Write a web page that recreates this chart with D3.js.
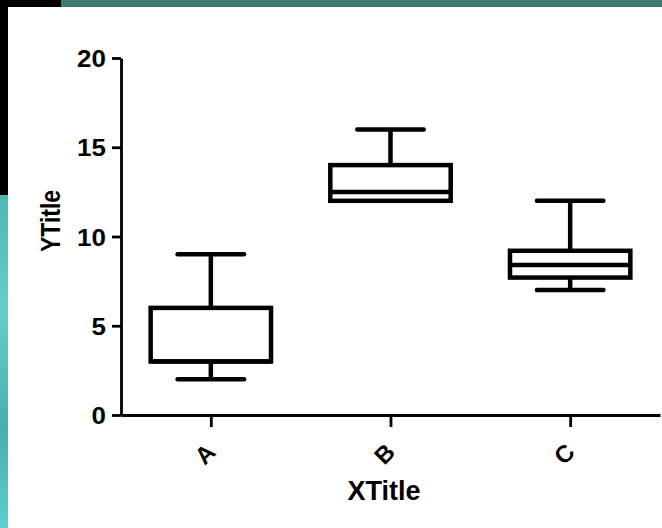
<!DOCTYPE html>
<html>
<head>
    <title>boxplot</title>
    <script src="https://d3js.org/d3.v7.min.js"></script>
    <style>
        body { margin:0; background:#fff; }
        text { font-family:"Liberation Sans", Arial, sans-serif; font-weight:bold; fill:#000; }
    </style>
</head>
<body>
    <script>
var w=662;
var h=528;

// data
var categories=["A","B","C"];
var mins=[2,12,7];
var q1s=[3,12,7.7];
var medians=[3,12.5,8.4];
var q3s=[6,14,9.2];
var maxs=[9,16,12];
var yTicks=[0,5,10,15,20];

var svg=d3.select("body")
    .append("svg")
    .attr("width",w)
    .attr("height",h);

// slide decoration: top strip and left strip
var defs=svg.append("defs");
var grad=defs.append("linearGradient")
    .attr("id","swirl")
    .attr("x1",0).attr("y1",0).attr("x2",0).attr("y2",1);
grad.append("stop").attr("offset","0%").attr("stop-color","#4fb7b4");
grad.append("stop").attr("offset","35%").attr("stop-color","#63cfcc");
grad.append("stop").attr("offset","70%").attr("stop-color","#47aeb0");
grad.append("stop").attr("offset","100%").attr("stop-color","#5ccfd0");

svg.append("rect").attr("x",0).attr("y",0).attr("width",61).attr("height",7).attr("fill","#000");
svg.append("rect").attr("x",61).attr("y",0).attr("width",w-61).attr("height",7).attr("fill","#3d7a6f");
svg.append("rect").attr("x",0).attr("y",0).attr("width",8).attr("height",195).attr("fill","#000");
svg.append("rect").attr("x",0).attr("y",195).attr("width",8).attr("height",h-195).attr("fill","url(#swirl)");

// scales
var x=d3.scalePoint()
    .domain(categories)
    .range([121,660])
    .padding(0.5);
var y=d3.scaleLinear()
    .domain([0,20])
    .range([415,58]);

var step=x.step();
var boxW=step*0.67;
var capW=step*0.37;

// axes
var yAxis=svg.append("g")
    .attr("transform","translate(121,0)")
    .call(d3.axisLeft(y).tickValues(yTicks).tickSize(9).tickSizeOuter(0).tickPadding(5));
yAxis.selectAll("text")
    .style("font-size","24px")
    .attr("dy","0.36em")
    .attr("transform","scale(1.08,1)");

var xAxis=svg.append("g")
    .attr("transform","translate(0,415)")
    .call(d3.axisBottom(x).tickSize(12).tickSizeOuter(0));
xAxis.selectAll("text").remove();

svg.selectAll(".domain, .tick line")
    .attr("stroke","#000")
    .attr("stroke-width",2.8);

// rotated category labels
svg.selectAll(".catlab")
    .data(categories)
    .enter()
    .append("text")
    .attr("class","catlab")
    .attr("text-anchor","middle")
    .attr("dy","0.35em")
    .style("font-size","24px")
    .attr("transform",function(d){ return "translate("+(x(d)-6)+",454) rotate(-45)"; })
    .text(function(d){ return d; });

// titles
svg.append("text")
    .attr("x",384)
    .attr("y",500)
    .attr("text-anchor","middle")
    .style("font-size","27px")
    .text("XTitle");
svg.append("text")
    .attr("transform","translate(60,221) rotate(-90) scale(1,1.2)")
    .attr("text-anchor","middle")
    .style("font-size","23px")
    .text("YTitle");

// boxes
var g=svg.append("g")
    .attr("fill","none")
    .attr("stroke","#000")
    .attr("stroke-width",4.5);

categories.forEach(function(c,i){
    var cx=x(c);
    // whiskers
    g.append("line").attr("x1",cx).attr("x2",cx).attr("y1",y(maxs[i])).attr("y2",y(q3s[i]));
    g.append("line").attr("x1",cx).attr("x2",cx).attr("y1",y(q1s[i])).attr("y2",y(mins[i]));
    g.append("line").attr("x1",cx-capW/2).attr("x2",cx+capW/2).attr("y1",y(maxs[i])).attr("y2",y(maxs[i])).attr("stroke-linecap","round");
    g.append("line").attr("x1",cx-capW/2).attr("x2",cx+capW/2).attr("y1",y(mins[i])).attr("y2",y(mins[i])).attr("stroke-linecap","round");
    // box
    g.append("rect")
        .attr("x",cx-boxW/2)
        .attr("y",y(q3s[i]))
        .attr("width",boxW)
        .attr("height",y(q1s[i])-y(q3s[i]))
        .attr("fill","#fff");
    // median
    g.append("line").attr("x1",cx-boxW/2).attr("x2",cx+boxW/2).attr("y1",y(medians[i])).attr("y2",y(medians[i]));
});
    </script>
</body>
</html>
